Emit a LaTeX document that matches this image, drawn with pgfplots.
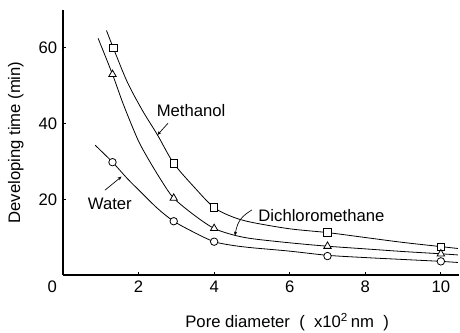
\documentclass[border=0pt]{standalone}
\usepackage{fontspec}
\setmainfont{Liberation Sans}
\usepackage{pgfplots}
\pgfplotsset{compat=1.18}
\usetikzlibrary{arrows.meta}
\begin{document}
\fontsize{12.5}{15}\selectfont
\begin{tikzpicture}
\begin{axis}[
  scale only axis, width=297pt, height=198.75pt,
  xmin=0, xmax=10.48, ymin=0, ymax=70,
  axis lines=left, axis line style={-, line width=0.9pt},
  xtick={2,4,6,8,10}, ytick={20,40,60},
  extra x ticks={0},
  extra x tick style={major tick length=0pt, xticklabel style={xshift=-8pt}},
  tick align=inside, major tick length=2.5pt,
  tick style={line width=0.8pt, black},
  /pgf/number format/assume math mode=true,
  ticklabel style={font=\fontsize{12.5}{15}\selectfont},
  label style={font=\fontsize{12.5}{15}\selectfont},
  xlabel={Pore diameter\ \ (\ \ x10\textsuperscript{2}\,nm\ \ )},
  ylabel={Developing time (min)},
  xlabel style={at={(rel axis cs:0.566,-0.177)}, anchor=center},
  ylabel style={at={(rel axis cs:-0.119,0.5)}, anchor=center},
  clip=false,
]
% fitted curves
\addplot[smooth, line width=0.6pt, black] coordinates {
 (1.15,64.6) (1.33,60) (1.7,51) (2.1,43.5) (2.5,37.0) (2.93,29.5) (3.5,22.9) (4,17.8)
 (4.5,15.3) (5,13.9) (6,12.2) (7,11.2) (8,9.9) (9,8.6) (10,7.5) (10.45,7.0)};
\addplot[smooth, line width=0.6pt, black] coordinates {
 (0.93,62.5) (1.31,53) (1.6,45) (1.97,36) (2.23,31.1) (2.6,25) (2.93,20.3) (3.5,15.6)
 (4,12.3) (4.5,10.6) (5,9.6) (6,8.5) (7,7.6) (8,6.9) (9,6.2) (10,5.6) (10.45,5.3)};
\addplot[smooth, line width=0.6pt, black] coordinates {
 (0.85,34.3) (1.31,29.8) (1.7,25.5) (2.05,22) (2.5,17.6) (2.93,14.2) (3.5,11.1) (4,8.8)
 (4.5,7.8) (5,7.2) (6,6.3) (7,5.2) (8,4.6) (9,4.1) (10,3.6) (10.45,3.3)};
% data points
\addplot[only marks, mark=square*, mark size=2.8pt, mark options={fill=white, draw=black, line width=0.6pt}] coordinates {
 (1.33,60) (2.93,29.5) (4,17.8) (7,11.3) (10,7.4)};
\addplot[only marks, mark=triangle*, mark size=3.2pt, mark options={fill=white, draw=black, line width=0.6pt}] coordinates {
 (1.31,53) (2.93,20.3) (4,12.3) (7,7.6) (10,5.6)};
\addplot[only marks, mark=*, mark size=2.8pt, mark options={fill=white, draw=black, line width=0.6pt}] coordinates {
 (1.31,29.8) (2.93,14.2) (4,8.8) (7,5.0) (10,3.6)};
% annotations
\node[font=\fontsize{12.5}{15}\selectfont] at (axis cs:3.39,43.5) {Methanol};
\draw[-{Stealth[length=3pt,width=2.5pt]}, line width=0.5pt] (axis cs:2.78,40.1) -- (axis cs:2.5,37.0);
\node[font=\fontsize{12.5}{15}\selectfont] at (axis cs:1.24,18.7) {Water};
\draw[-{Stealth[length=3pt,width=2.5pt]}, line width=0.5pt] (axis cs:1.11,22.4) -- (axis cs:1.55,26.0);
\node[font=\fontsize{12.5}{15}\selectfont] at (axis cs:6.84,15.8) {Dichloromethane};
\draw[-{Stealth[length=3pt,width=2.5pt]}, line width=0.5pt] (axis cs:5.0,17.2) .. controls (axis cs:4.75,15.6) and (axis cs:4.62,14.5) .. (axis cs:4.55,10.4);
\end{axis}
\pgfresetboundingbox
\path ([shift={(-47.25pt,-43.5pt)}]current axis.south west) rectangle ([shift={(0.75pt,7.5pt)}]current axis.north east);
\end{tikzpicture}
\end{document}
